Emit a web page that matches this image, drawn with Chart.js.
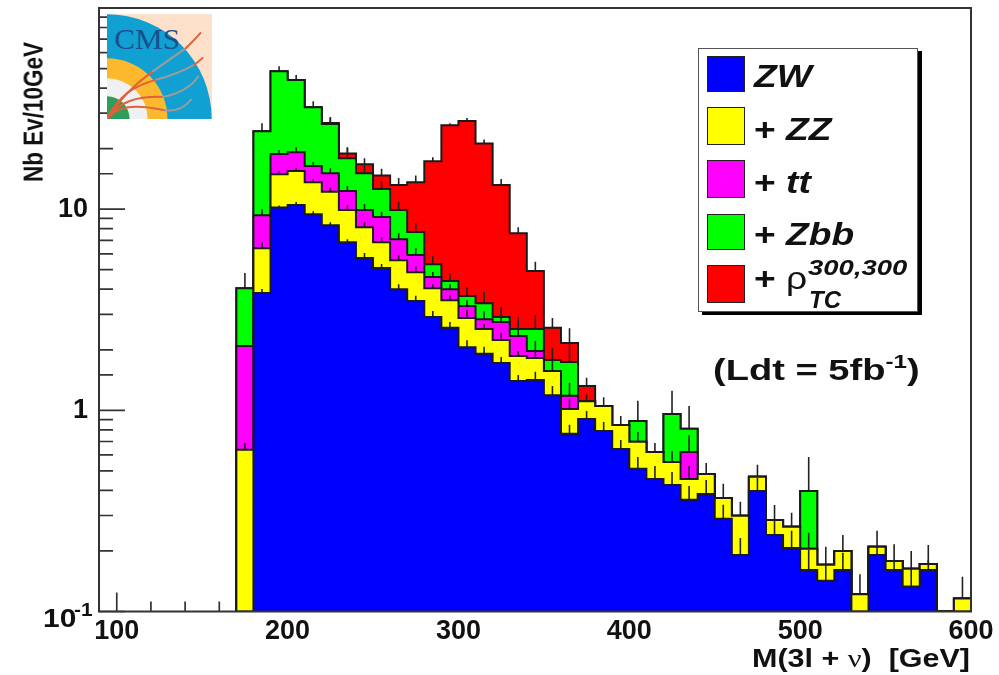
<!DOCTYPE html>
<html>
<head>
<meta charset="utf-8">
<title>M(3l + nu)</title>
<script src="https://cdn.jsdelivr.net/npm/chart.js@4"></script>
<style>
    html, body { margin: 0; padding: 0; background: #fff; }
    #wrap { position: relative; width: 999px; height: 675px; overflow: hidden; font-family: "Liberation Sans", Arial, sans-serif; font-weight: bold; color: #111; filter: blur(0.4px); }
    #chart { position: absolute; left: 0; top: 0; }
    .txt { position: absolute; white-space: pre; line-height: 1; transform-origin: left top; transform: scaleX(1.2); }
    .it { font-style: italic; }
    #legend { position: absolute; left: 698px; top: 48px; width: 218px; height: 262px; background: #fff; border: 1px solid #555; box-shadow: 4px 3px 0 #000; }
    .sw { position: absolute; left: 707px; width: 36px; border: 1px solid #222; }
    #logo { position: absolute; left: 107px; top: 14px; width: 105px; height: 105px; font-weight: normal; }
</style>
</head>
<body>
<div id="wrap">
    <canvas id="chart" width="999" height="675"></canvas>

    <svg id="logo" viewBox="52 43 316 315">
        <rect x="52" y="43" width="316" height="315" fill="#fde0c9"/>
        <circle cx="52" cy="358" r="315" fill="#10a0d2"/>
        <circle cx="52" cy="358" r="182" fill="#fdb92e"/>
        <circle cx="52" cy="358" r="122" fill="#eef0f2"/>
        <circle cx="52" cy="358" r="68" fill="#2f9e58"/>
        <text x="74" y="148" font-family="Liberation Serif" font-size="86" font-weight="normal" fill="#1b4f8f" textLength="198" lengthAdjust="spacingAndGlyphs">CMS</text>
        <g fill="none" stroke-width="6" stroke-linecap="round">
            <path d="M52 358 C95 290 140 250 190 215" stroke="#e0613a"/>
            <path d="M190 215 C225 190 260 165 290 145" stroke="#a09a98"/>
            <path d="M290 145 C305 130 320 115 333 100" stroke="#e0613a"/>
            <path d="M52 358 C85 290 130 260 200 240" stroke="#e0613a"/>
            <path d="M200 240 C240 230 280 215 315 195" stroke="#a09a98"/>
            <path d="M315 195 L340 175" stroke="#e0613a"/>
            <path d="M52 358 C90 305 140 290 220 292" stroke="#e0613a"/>
            <path d="M220 292 C260 285 305 265 327 230" stroke="#a09a98"/>
            <path d="M52 358 C85 320 130 312 225 332" stroke="#e0613a"/>
            <path d="M225 332 C255 336 285 325 305 300" stroke="#a09a98"/>
        </g>
    </svg>

    <div id="legend"></div>
    <div class="sw" style="top:56px;height:34px;background:#0000ff"></div>
    <div class="sw" style="top:107px;height:36px;background:#ffff00"></div>
    <div class="sw" style="top:160px;height:36px;background:#ff00ff"></div>
    <div class="sw" style="top:214px;height:34px;background:#00ff00"></div>
    <div class="sw" style="top:265px;height:36px;background:#ff0000"></div>
    <div class="txt it" style="left:754px;top:61px;font-size:31px">ZW</div>
    <div class="txt" style="left:754px;top:114px;font-size:31px">+ <span class="it">ZZ</span></div>
    <div class="txt" style="left:754px;top:167px;font-size:31px">+ <span class="it">tt</span></div>
    <div class="txt" style="left:754px;top:219px;font-size:31px">+ <span class="it">Zbb</span></div>
    <div class="txt" style="left:754px;top:263px;font-size:31px">+ <span style="font-weight:normal">ρ</span></div>
    <div class="txt it" style="left:808px;top:257px;font-size:22px;transform:scaleX(1.25)">300,300</div>
    <div class="txt it" style="left:809px;top:288px;font-size:24px;transform:scaleX(1.0)">TC</div>

    <div class="txt" style="left:713px;top:355px;font-size:30px;transform:scaleX(1.27)">(Ldt = 5fb<span style="font-size:19px;position:relative;top:-12px">-1</span>)</div>

    <div class="txt" style="left:43px;top:605px;font-size:26px;transform:scaleX(1.15)">10</div>
    <div class="txt" style="left:74px;top:600px;font-size:19px;transform:scaleX(1.1)">-1</div>

    <div class="txt" style="left:752px;top:646px;font-size:25px;transform:scaleX(1.22)">M(3l + <span style="font-weight:normal;font-family:'Liberation Serif'">ν</span>)  [GeV]</div>
    <div class="txt" style="left:21px;top:182px;font-size:22.5px;transform-origin:left top;transform:rotate(-90deg) scaleY(1.2)">Nb Ev/10GeV</div>
</div>

<script>
// bin lower edges, 10 GeV wide, last entry closes the histogram
const binEdges = [170,180,190,200,210,220,230,240,250,260,270,280,290,300,310,320,330,340,350,360,370,380,390,400,410,420,430,440,450,460,470,480,490,500,510,520,530,540,550,560,570,580,590,600];

// stacked totals per bin, 0.1 means empty (sits on the axis)
const zw = [0.1,3.83,10.2,10.5,9.44,8.33,6.85,5.72,5.10,4.00,3.50,2.91,2.57,2.06,1.91,1.72,1.40,1.415,1.19,0.764,0.906,0.79,0.643,0.512,0.456,0.426,0.359,0.384,0.289,0.191,0.397,0.24,0.207,0.161,0.142,0.161,0.1,0.191,0.161,0.133,0.161,0.1,0.1];
const zz = [0.636,6.40,14.9,15.5,13.6,12.2,9.9,8.14,6.85,5.58,4.86,4.05,3.53,2.88,2.54,2.24,1.86,1.82,1.57,1.016,1.11,1.05,0.846,0.697,0.621,0.554,0.456,0.483,0.367,0.299,0.467,0.285,0.264,0.205,0.171,0.2,0.122,0.21,0.178,0.163,0.172,0.1,0.116];
const tt = [2.09,9.33,18.8,19.2,16.4,15.1,12.3,9.9,9.14,7.09,5.91,4.6,4.0,3.3,2.84,2.75,2.34,1.97,1.57,1.18,1.11,1.05,0.846,0.697,0.621,0.554,0.621,0.483,0.367,0.299,0.467,0.285,0.264,0.205,0.171,0.2,0.122,0.21,0.178,0.163,0.172,0.1,0.116];
const zbb = [4.05,24.4,48.5,43.8,32.1,26.5,17.9,15.1,12.6,9.9,7.7,5.33,4.4,3.7,3.41,2.91,2.54,2.54,1.78,1.74,1.11,1.05,0.846,0.886,0.621,0.96,0.81,0.483,0.367,0.299,0.467,0.285,0.264,0.397,0.171,0.2,0.122,0.21,0.178,0.163,0.172,0.1,0.116];
const rho = [4.05,24.4,48.5,43.8,32.1,26.8,18.9,16.7,14.7,13.2,13.6,17.3,26.1,27.4,21.2,13.2,7.6,4.93,2.57,2.16,1.32,1.05,0.846,0.886,0.621,0.96,0.81,0.483,0.367,0.299,0.467,0.285,0.264,0.397,0.171,0.2,0.122,0.21,0.178,0.163,0.172,0.1,0.116];

// error bar half sizes, 0 = none visible
const zwErr = [0,0.18,0.23,0.37,0.33,0.29,0.24,0.34,0.24,0.24,0.21,0.21,0.18,0.17,0.16,0.12,0.10,0.14,0.13,0.083,0.087,0.086,0.07,0.075,0.073,0.068,0.062,0.067,0.05,0.041,0.064,0.045,0.045,0.041,0.028,0.035,0,0.02,0.018,0.03,0.02,0,0];
const zzErr = [0.053,0.45,0.52,0.54,0.48,0.57,0.58,0.48,0.40,0.33,0.35,0.19,0.21,0.28,0.15,0.19,0.11,0.15,0.19,0.12,0.09,0.11,0.092,0.084,0.068,0.074,0.073,0.065,0.064,0.052,0.069,0.053,0.046,0.041,0.039,0.04,0.031,0.042,0.038,0.037,0.042,0,0.033];
const ttErr = [0,0.66,0.88,1.1,0.77,0.89,0.73,0.70,0.54,0.50,0.49,0.27,0.24,0.23,0.27,0.20,0.19,0.24,0,0.19,0,0,0,0,0,0,0.13,0,0,0,0,0,0,0,0,0,0,0,0,0,0,0,0];
const zbbErr = [0.76,2.3,2.9,2.6,2.3,1.9,2.4,1.8,1.2,0.95,0.84,0.51,0.42,0.40,0.46,0.35,0.37,0.44,0.26,0.40,0,0,0,0.23,0,0.29,0.24,0,0,0,0,0,0,0.19,0,0,0,0,0,0,0,0,0];
const rhoErr = [0,0,0,0,0,1.9,1.3,1.2,1.2,1.1,1.1,0.81,0.6,0.96,1.0,0.94,0.54,0.54,0.31,0.40,0.13,0,0,0,0,0,0,0,0,0,0,0,0,0,0,0,0,0,0,0,0,0,0];

const xMajorLabels = [100, 200, 300, 400, 500, 600];
const yLabels = [1, 10];

// closed step outline: up from the axis, along the bins, back down
function histPoints(values) {
    const pts = [{ x: binEdges[0], y: 0.1 }];
    values.forEach((v, i) => pts.push({ x: binEdges[i], y: v }));
    pts.push({ x: binEdges[values.length], y: values[values.length - 1] });
    pts.push({ x: binEdges[values.length], y: 0.1 });
    return pts;
}

function errPoints(values, errs) {
    const pts = [];
    values.forEach((v, i) => {
        if (!errs[i]) return;
        const c = (binEdges[i] + binEdges[i + 1]) / 2;
        pts.push({ x: c, y: v - errs[i] }, { x: c, y: v + errs[i] }, { x: c, y: null });
    });
    return pts;
}

const layers = [
    { label: 'ZW', values: zw, errs: zwErr, color: '#0000ff' },
    { label: '+ ZZ', values: zz, errs: zzErr, color: '#ffff00' },
    { label: '+ tt', values: tt, errs: ttErr, color: '#ff00ff' },
    { label: '+ Zbb', values: zbb, errs: zbbErr, color: '#00ff00' },
    { label: '+ rho TC 300,300', values: rho, errs: rhoErr, color: '#ff0000' }
];

// each layer paints its own error bar first, then its fill hides the lower half
const datasets = [];
layers.forEach((l, i) => {
    datasets.push({
        label: l.label,
        data: histPoints(l.values),
        stepped: 'before',
        fill: 'start',
        backgroundColor: l.color,
        borderColor: '#1a1a1a',
        borderWidth: 2,
        pointRadius: 0,
        order: i * 2 + 1
    });
    datasets.push({
        label: l.label + ' err',
        data: errPoints(l.values, l.errs),
        fill: false,
        borderColor: '#222',
        borderWidth: 1.6,
        pointRadius: 0,
        spanGaps: false,
        order: i * 2 + 2
    });
});

// ROOT style ticks pointing into the frame, drawn under the histograms
const insideTicks = {
    id: 'insideTicks',
    beforeDatasetsDraw(chart) {
        const { ctx, chartArea: a, scales: { x, y } } = chart;
        ctx.save();
        ctx.strokeStyle = '#333';
        ctx.lineWidth = 1.7;
        ctx.beginPath();
        x.ticks.forEach(t => {
            const px = x.getPixelForValue(t.value);
            const len = xMajorLabels.includes(t.value) ? 19 : 10;
            ctx.moveTo(px, a.bottom);
            ctx.lineTo(px, a.bottom - len);
        });
        y.ticks.forEach(t => {
            const py = y.getPixelForValue(t.value);
            const isDecade = Math.abs(Math.log10(t.value) - Math.round(Math.log10(t.value))) < 1e-6;
            ctx.moveTo(a.left, py);
            ctx.lineTo(a.left + (isDecade ? 26 : 14), py);
        });
        ctx.stroke();
        ctx.restore();
    },
    afterDatasetsDraw(chart) {
        const { ctx, chartArea: a } = chart;
        ctx.save();
        ctx.strokeStyle = '#333';
        ctx.lineWidth = 2;
        ctx.strokeRect(a.left, a.top, a.right - a.left, a.bottom - a.top);
        ctx.restore();
    }
};

new Chart(document.getElementById('chart').getContext('2d'), {
    type: 'line',
    data: { datasets: datasets },
    plugins: [insideTicks],
    options: {
        responsive: false,
        animation: false,
        events: [],
        layout: { autoPadding: false, padding: { left: 0, right: 28, top: 8, bottom: 0 } },
        plugins: { legend: { display: false }, tooltip: { enabled: false } },
        scales: {
            x: {
                type: 'linear',
                min: 89.6,
                max: 600,
                grid: { display: false },
                border: { display: false },
                afterFit: s => { s.height = 63.5; s.paddingLeft = 0; s.paddingRight = 0; },
                ticks: {
                    stepSize: 20,
                    autoSkip: false,
                    includeBounds: false,
                    maxRotation: 0,
                    padding: -4,
                    color: '#111',
                    font: { family: 'Liberation Sans', weight: 'bold', size: 27 },
                    callback: v => xMajorLabels.includes(v) ? String(v) : ''
                }
            },
            y: {
                type: 'logarithmic',
                min: 0.1,
                max: 100,
                grid: { display: false },
                border: { display: false },
                afterFit: s => { s.width = 99; s.paddingTop = 0; s.paddingBottom = 0; },
                ticks: {
                    autoSkip: false,
                    padding: 3,
                    color: '#111',
                    font: { family: 'Liberation Sans', weight: 'bold', size: 27 },
                    callback: v => yLabels.includes(v) ? String(v) : ''
                }
            }
        }
    }
});
</script>
</body>
</html>
